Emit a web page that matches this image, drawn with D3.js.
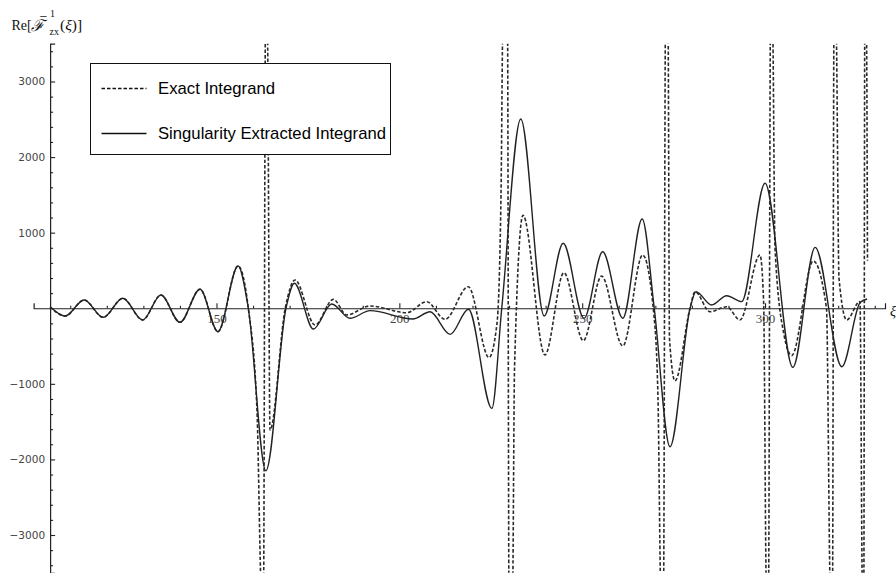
<!DOCTYPE html>
<html><head><meta charset="utf-8">
<script src="https://cdn.jsdelivr.net/npm/d3@7"></script>
<style>body{margin:0;background:#fff}svg{display:block}</style>
</head><body>
<svg id="c" width="896" height="573"></svg>
<script>
// ---- data (ξ, Re value) ----
const solidXi = [104.5,108.6,113.8,119.0,124.4,129.8,134.8,140.0,145.5,150.4,155.9,158.7,163.5,169.0,171.3,176.5,181.5,186.5,192.0,203.7,208.4,213.9,218.9,225.3,228.0,233.2,239.6,244.8,250.5,255.6,261.1,266.4,269.7,274.0,279.5,281.1,285.4,289.5,293.6,300.0,307.6,313.7,321.0,326.0,327.9];
const solidVal = [20,-103,109,-120,132,-155,175,-186,251,-310,559,0,-2149,0,330,-275,56,-133,-32,-142,-46,-345,-14,-1324,0,2504,-103,859,-133,748,-133,1181,0,-1832,0,219,43,166,87,1653,-781,806,-773,75,122];

const exactXi = [104.5,108.6,113.8,119.0,124.4,129.8,134.8,140.0,145.5,150.4,155.9,158.7,161.07,162.36,162.85,163.4,163.89,164.63,168.8,171.47,176.93,181.94,185.6,191.97,202.01,207.48,212.48,218.85,224.51,226.7,227.8,228.34,229.57,229.98,230.94,231.49,233.81,239.8,245.0,250.3,255.3,261.1,266.54,269.63,270.73,271.55,272.23,272.78,273.46,273.87,275.38,279.48,280.85,284.95,289.51,293.15,298.62,299.6,300.4,300.94,301.49,302.04,302.72,305.18,307.29,313.19,316.8,317.9,318.44,318.85,319.4,320.22,322.33,325.96,326.65,327.0,327.28,327.69,328.01];
const exactVal = [20,-103,109,-120,132,-155,175,-186,251,-310,559,0,-1350,-3800,-3800,3800,3800,-1611,0,374,-222,118,-89,30,-59,87,-146,285,-652,-200,1500,3800,3800,-3800,-3800,-800,1230,-618,470,-429,427,-499,704,-100,-1200,-3800,-3800,3800,3800,-400,-960,0,219,-46,20,-155,705,100,-3800,-3800,3800,3800,800,-350,-625,625,0,-3800,-3800,3800,3800,400,-155,90,-3800,-3800,3800,3800,630];

const xMajorTicks = [150,200,250,300];
const xMinorTicks = [110,120,130,140,160,170,180,190,210,220,230,240,260,270,280,290,310,320,330];
const yMajorTicks = [-3000,-2000,-1000,1000,2000,3000];
const yMinorTicks = [-3400,-3200,-2800,-2600,-2400,-2200,-1800,-1600,-1400,-1200,-800,-600,-400,-200,200,400,600,800,1200,1400,1600,1800,2200,2400,2600,2800,3200,3400];
const legendLabels = ["Exact Integrand","Singularity Extracted Integrand"];

// ---- drawing ----
const svg = d3.select("#c");
const x = d3.scaleLinear().domain([100, 332.8]).range([33.65, 885]);
const y = d3.scaleLinear().domain([-3500, 3500]).range([572.8, 43.7]);
const yAxisAt = 104.5;

svg.append("defs").append("clipPath").attr("id","plotclip")
  .append("rect").attr("x", x.range()[0]).attr("y", y.range()[1])
  .attr("width", x.range()[1]-x.range()[0]).attr("height", y.range()[0]-y.range()[1]);

// x axis (ticks upward)
const gx = svg.append("g").attr("transform", `translate(0,${y(0)})`);
gx.call(d3.axisTop(x).tickValues(xMajorTicks).tickSize(5).tickFormat(""));
const gxm = svg.append("g").attr("transform", `translate(0,${y(0)})`);
gxm.call(d3.axisTop(x).tickValues(xMinorTicks).tickSize(2.5).tickFormat(""));
gxm.select(".domain").remove();
const gxl = svg.append("g").attr("transform", `translate(0,${y(0)})`);
gxl.call(d3.axisBottom(x).tickValues(xMajorTicks).tickSize(0).tickPadding(6).tickFormat(d3.format("d")));
gxl.select(".domain").remove();
gxl.selectAll("text").attr("font-family","'Liberation Serif','Times New Roman',serif").attr("font-size","13px").attr("fill","#444");

// y axis (ticks to the right)
const gy = svg.append("g").attr("transform", `translate(${x(yAxisAt)},0)`);
gy.call(d3.axisRight(y).tickValues(yMajorTicks).tickSize(5).tickFormat(""));
const gym = svg.append("g").attr("transform", `translate(${x(yAxisAt)},0)`);
gym.call(d3.axisRight(y).tickValues(yMinorTicks).tickSize(3).tickFormat(""));
gym.select(".domain").remove();
const gyl = svg.append("g").attr("transform", `translate(${x(yAxisAt)},0)`);
gyl.call(d3.axisLeft(y).tickValues(yMajorTicks).tickSize(0).tickPadding(5).tickFormat(d => d3.format("d")(d).replace("-","\u2212")));
gyl.select(".domain").remove();
gyl.selectAll("text").attr("font-family","'DejaVu Sans',Verdana,sans-serif").attr("font-size","10.5px").attr("fill","#444");

svg.selectAll(".domain").attr("stroke","#222").attr("stroke-width",1.2);
svg.selectAll(".tick line").attr("stroke","#222").attr("stroke-width",1.1);

// curves
const line = d3.line().x(d => x(d[0])).y(d => y(d[1])).curve(d3.curveMonotoneX);
const plot = svg.append("g").attr("clip-path","url(#plotclip)");
plot.append("path").datum(exactXi.map((v,i)=>[v, exactVal[i]]))
  .attr("d", line).attr("fill","none").attr("stroke","#2a2a2a").attr("stroke-width",1.6)
  .attr("stroke-dasharray","3.5,2");
plot.append("path").datum(solidXi.map((v,i)=>[v, solidVal[i]]))
  .attr("d", line).attr("fill","none").attr("stroke","#222").attr("stroke-width",1.4);

// legend
const lg = svg.append("g");
lg.append("rect").attr("x",90.5).attr("y",63.5).attr("width",300).attr("height",91)
  .attr("fill","#fff").attr("stroke","#111").attr("stroke-width",1);
const rows = [{y:88.5, dash:"3.5,2", w:117}, {y:133.5, dash:null, w:228}];
rows.forEach((r,i)=>{
  const l = lg.append("line").attr("x1",101.5).attr("x2",146.5).attr("y1",r.y).attr("y2",r.y)
    .attr("stroke","#111").attr("stroke-width",1.4);
  if (r.dash) l.attr("stroke-dasharray", r.dash);
  lg.append("text").attr("x",158).attr("y", r.y+5.5)
    .attr("font-family","'Liberation Sans',Arial,sans-serif").attr("font-size","17px")
    .attr("textLength", r.w).attr("lengthAdjust","spacingAndGlyphs")
    .attr("fill","#000").text(legendLabels[i]);
});

// y label Re[F^-1_zx(ξ)] as one text element with absolutely placed pieces
const serif = "'Liberation Serif','DejaVu Serif','Times New Roman',serif";
const lab = svg.append("text").attr("font-family", serif).attr("font-size","14px").attr("fill","#111");
lab.append("tspan").attr("x",11.5).attr("y",30).text("Re[");
lab.append("tspan").attr("x",31).attr("y",31).attr("font-size","16px")
  .attr("font-family","'DejaVu Serif',serif").attr("font-style","italic").text("\u2131");
lab.append("tspan").attr("x",39.5).attr("y",20.5).attr("font-size","14px").text("\u2212");
lab.append("tspan").attr("x",50).attr("y",17).attr("font-size","10px").text("1");
lab.append("tspan").attr("x",49.5).attr("y",34.5).attr("font-size","10px").text("zx");
lab.append("tspan").attr("x",60).attr("y",30).attr("font-size","15.5px").text("(");
lab.append("tspan").attr("font-size","15.5px").attr("font-style","italic").text("\u03BE");
lab.append("tspan").attr("font-size","15.5px").text(")]");

// x label
svg.append("text").attr("x",890).attr("y",316).attr("font-family",serif)
  .attr("font-size","14px").attr("font-style","italic").attr("fill","#111").text("\u03BE");
</script>
</body></html>
